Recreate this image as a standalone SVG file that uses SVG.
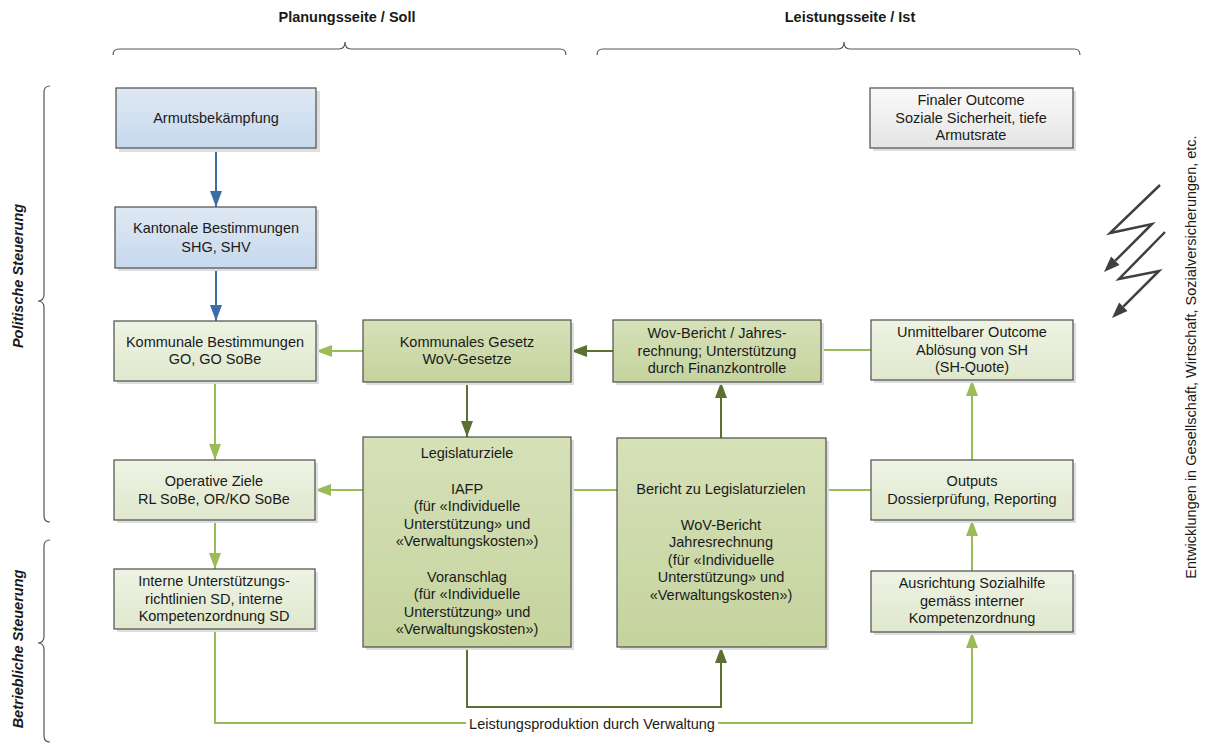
<svg xmlns="http://www.w3.org/2000/svg" width="1209" height="744" viewBox="0 0 1209 744">
<style>
text{font-family:"Liberation Sans",Arial,sans-serif;font-size:14.5px;fill:#1a1a1a;text-anchor:middle}
.hdr{font-weight:bold}
.side{font-weight:bold;font-style:italic}
.box{stroke:#4d4d4d;stroke-width:1.2}
.shadow{fill:#dedede}
.blue{fill:url(#gBlue)}
.lg{fill:url(#gLight)}
.mg{fill:url(#gMed)}
.gr{fill:url(#gGray)}
.brace{fill:none;stroke:#555;stroke-width:1.2}
.cl{fill:none;stroke:#9bbb59;stroke-width:2}
.cd{fill:none;stroke:#5b7131;stroke-width:2}
.cb{fill:none;stroke:#3c6ea6;stroke-width:2}
.bolt{fill:none;stroke:#404040;stroke-width:2.5;stroke-linejoin:miter}
</style>
<defs>
<linearGradient id="gBlue" x1="0" y1="0" x2="0" y2="1"><stop offset="0" stop-color="#dfe8f3"/><stop offset="1" stop-color="#c6d9ee"/></linearGradient>
<linearGradient id="gLight" x1="0" y1="0" x2="0" y2="1"><stop offset="0" stop-color="#eef3e4"/><stop offset="1" stop-color="#e0e8cd"/></linearGradient>
<linearGradient id="gMed" x1="0" y1="0" x2="0" y2="1"><stop offset="0" stop-color="#d6e1b8"/><stop offset="1" stop-color="#c5d39e"/></linearGradient>
<linearGradient id="gGray" x1="0" y1="0" x2="0" y2="1"><stop offset="0" stop-color="#fafafa"/><stop offset="1" stop-color="#e4e4e4"/></linearGradient>
<marker id="aL" viewBox="0 0 16 12" refX="16" refY="6" markerWidth="16" markerHeight="12" markerUnits="userSpaceOnUse" orient="auto"><path d="M0,0 L16,6 L0,12 z" fill="#9bbb59"/></marker>
<marker id="aD" viewBox="0 0 16 12" refX="16" refY="6" markerWidth="16" markerHeight="12" markerUnits="userSpaceOnUse" orient="auto"><path d="M0,0 L16,6 L0,12 z" fill="#5b7131"/></marker>
<marker id="aB" viewBox="0 0 16 12" refX="16" refY="6" markerWidth="16" markerHeight="12" markerUnits="userSpaceOnUse" orient="auto"><path d="M0,0 L16,6 L0,12 z" fill="#3c6ea6"/></marker>
</defs>
<rect width="1209" height="744" fill="#ffffff"/>

<g id="headers">
<text class="hdr" x="347" y="22">Planungsseite / Soll</text>
<text class="hdr" x="850" y="22">Leistungsseite / Ist</text>
<path class="brace" d="M113,55 Q113,49 119,49 L339,49 Q345,49 345,42 Q345,49 351,49 L560,49 Q566,49 566,55"/>
<path class="brace" d="M597,55 Q597,49 603,49 L838,49 Q844,49 844,42 Q844,49 850,49 L1074,49 Q1080,49 1080,55"/>
<path class="brace" d="M50,86 Q44,86 44,92 L44,294 Q44,301 38,301 Q44,301 44,308 L44,516 Q44,522 50,522"/>
<path class="brace" d="M50,540 Q44,540 44,546 L44,636 Q44,643 38,643 Q44,643 44,650 L44,736 Q44,742 50,742"/>
<text class="side" transform="translate(23,276) rotate(-90)">Politische Steuerung</text>
<text class="side" transform="translate(23,649) rotate(-90)">Betriebliche Steuerung</text>
<text transform="translate(1196,357) rotate(-90)">Entwicklungen in Gesellschaft, Wirtschaft, Sozialversicherungen, etc.</text>
</g>

<g id="bolts">
<polyline class="bolt" points="1160,185 1110,233 1152,224 1115.3,260.7"/>
<polygon points="1104,272 1119.5,264.9 1111.1,256.5" fill="#404040"/>
<polyline class="bolt" points="1165,232 1119,279 1159,271 1123.3,306.7"/>
<polygon points="1112,318 1127.5,310.9 1119.1,302.5" fill="#404040"/>
</g>

<g id="connectors">
<path class="cb" d="M216,148 L216,207" marker-end="url(#aB)"/>
<path class="cb" d="M216,268 L216,321" marker-end="url(#aB)"/>
<path class="cl" d="M215,381 L215,460" marker-end="url(#aL)"/>
<path class="cl" d="M215,520 L215,569" marker-end="url(#aL)"/>
<path class="cl" d="M363,351 L316,351" marker-end="url(#aL)"/>
<path class="cd" d="M467,382 L467,437" marker-end="url(#aD)"/>
<path class="cd" d="M613,351 L571,351" marker-end="url(#aD)"/>
<path class="cl" d="M821,350 L871,350"/>
<path class="cl" d="M363,490 L315,490" marker-end="url(#aL)"/>
<path class="cl" d="M571,490 L617,490"/>
<path class="cl" d="M826,490 L871,490"/>
<path class="cd" d="M721,438 L721,382" marker-end="url(#aD)"/>
<path class="cl" d="M972,460 L972,380" marker-end="url(#aL)"/>
<path class="cl" d="M972,571 L972,520" marker-end="url(#aL)"/>
<path class="cd" d="M467,647 L467,707 L721,707 L721,647" marker-end="url(#aD)"/>
<path class="cl" d="M215,629 L215,723 L972,723 L972,632" marker-end="url(#aL)"/>
<rect x="466" y="715" width="252" height="17" fill="#ffffff"/>
<text x="592" y="729">Leistungsproduktion durch Verwaltung</text>
</g>

<g id="n-armut">
<rect class="shadow" x="119" y="91" width="201" height="61"/>
<rect class="box blue" x="116" y="88" width="200" height="60"/>
<text x="216" y="123">Armutsbekämpfung</text>
</g>
<g id="n-kantonal">
<rect class="shadow" x="118" y="210" width="201" height="61"/>
<rect class="box blue" x="115" y="207" width="201" height="61"/>
<text x="216" y="233">Kantonale Bestimmungen</text>
<text x="216" y="252">SHG, SHV</text>
</g>
<g id="n-kommunal-best">
<rect class="shadow" x="117" y="324" width="202" height="60"/>
<rect class="box lg" x="114" y="321" width="202" height="60"/>
<text x="215" y="347">Kommunale Bestimmungen</text>
<text x="215" y="364">GO, GO SoBe</text>
</g>
<g id="n-operativ">
<rect class="shadow" x="117" y="463" width="201" height="60"/>
<rect class="box lg" x="114" y="460" width="201" height="60"/>
<text x="214" y="486">Operative Ziele</text>
<text x="214" y="504">RL SoBe, OR/KO SoBe</text>
</g>
<g id="n-intern">
<rect class="shadow" x="117" y="572" width="201" height="60"/>
<rect class="box lg" x="114" y="569" width="201" height="60"/>
<text x="214" y="586">Interne Unterstützungs-</text>
<text x="214" y="604">richtlinien SD, interne</text>
<text x="214" y="621">Kompetenzordnung SD</text>
</g>
<g id="n-gesetz">
<rect class="shadow" x="366" y="323" width="208" height="62"/>
<rect class="box mg" x="363" y="320" width="208" height="62"/>
<text x="467" y="347">Kommunales Gesetz</text>
<text x="467" y="364">WoV-Gesetze</text>
</g>
<g id="n-legislatur">
<rect class="shadow" x="366" y="440" width="208" height="210"/>
<rect class="box mg" x="363" y="437" width="208" height="210"/>
<text x="467" y="458">Legislaturziele</text>
<text x="467" y="494">IAFP</text>
<text x="467" y="511">(für «Individuelle</text>
<text x="467" y="529">Unterstützung» und</text>
<text x="467" y="546">«Verwaltungskosten»)</text>
<text x="467" y="582">Voranschlag</text>
<text x="467" y="599">(für «Individuelle</text>
<text x="467" y="617">Unterstützung» und</text>
<text x="467" y="634">«Verwaltungskosten»)</text>
</g>
<g id="n-wovbericht">
<rect class="shadow" x="616" y="323" width="208" height="62"/>
<rect class="box mg" x="613" y="320" width="208" height="62"/>
<text x="717" y="338">Wov-Bericht / Jahres-</text>
<text x="717" y="356">rechnung; Unterstützung</text>
<text x="717" y="373">durch Finanzkontrolle</text>
</g>
<g id="n-bericht">
<rect class="shadow" x="620" y="441" width="209" height="209"/>
<rect class="box mg" x="617" y="438" width="209" height="209"/>
<text x="721" y="494">Bericht zu Legislaturzielen</text>
<text x="721" y="530">WoV-Bericht</text>
<text x="721" y="547">Jahresrechnung</text>
<text x="721" y="565">(für «Individuelle</text>
<text x="721" y="582">Unterstützung» und</text>
<text x="721" y="600">«Verwaltungskosten»)</text>
</g>
<g id="n-final">
<rect class="shadow" x="873" y="91" width="203" height="60"/>
<rect class="box gr" x="870" y="88" width="203" height="60"/>
<text x="971" y="105">Finaler Outcome</text>
<text x="971" y="123">Soziale Sicherheit, tiefe</text>
<text x="971" y="140">Armutsrate</text>
</g>
<g id="n-unmittelbar">
<rect class="shadow" x="874" y="323" width="202" height="60"/>
<rect class="box lg" x="871" y="320" width="202" height="60"/>
<text x="972" y="337">Unmittelbarer Outcome</text>
<text x="972" y="355">Ablösung von SH</text>
<text x="972" y="372">(SH-Quote)</text>
</g>
<g id="n-outputs">
<rect class="shadow" x="874" y="463" width="202" height="60"/>
<rect class="box lg" x="871" y="460" width="202" height="60"/>
<text x="972" y="486">Outputs</text>
<text x="972" y="504">Dossierprüfung, Reporting</text>
</g>
<g id="n-ausrichtung">
<rect class="shadow" x="874" y="574" width="202" height="61"/>
<rect class="box lg" x="871" y="571" width="202" height="61"/>
<text x="972" y="588">Ausrichtung Sozialhilfe</text>
<text x="972" y="606">gemäss interner</text>
<text x="972" y="623">Kompetenzordnung</text>
</g>
</svg>
